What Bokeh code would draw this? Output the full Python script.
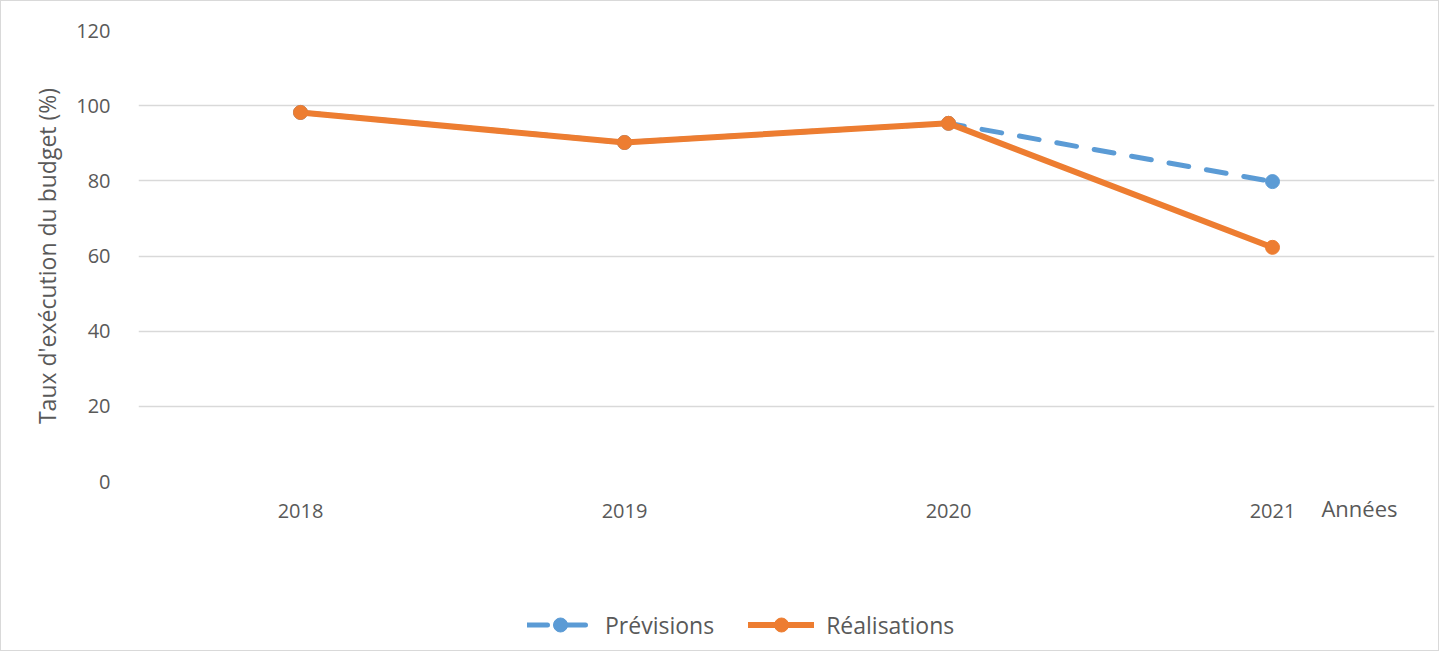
from bokeh.plotting import figure
from bokeh.layouts import column
from bokeh.models import Legend, LegendItem, Title, FactorRange, Range1d
from bokeh.embed import file_html
from bokeh.resources import INLINE

years = ["2018", "2019", "2020", "2021"]
previsions = [98.2, 90.2, 95.3, 79.8]
realisations = [98.2, 90.2, 95.3, 62.3]
y_ticks = [0, 20, 40, 60, 80, 100, 120]

BLUE = "#5B9BD5"
ORANGE = "#ED7D31"
TXT = "#595959"
GRID = "#D9D9D9"
FONT = "Open Sans"

p = figure(width=1437, height=550, x_range=FactorRange(*years, range_padding=0),
           y_range=Range1d(0, 120), output_backend="svg", toolbar_location=None,
           min_border_left=137, min_border_right=4, min_border_top=29, min_border_bottom=70)
p.outline_line_color = None
p.xgrid.grid_line_color = None
p.ygrid.grid_line_color = GRID
p.ygrid.grid_line_width = 1.5
p.yaxis.ticker = y_ticks
p.axis.axis_line_color = None
p.axis.major_tick_line_color = None
p.axis.minor_tick_line_color = None
p.axis.major_label_text_color = TXT
p.axis.major_label_text_font = FONT
p.axis.major_label_text_font_size = "20px"
p.xaxis.major_label_standoff = 16
p.yaxis.major_label_standoff = 22
p.yaxis.axis_label = "Taux d'exécution du budget (%)"
p.yaxis.axis_label_text_font = FONT
p.yaxis.axis_label_text_font_size = "23px"
p.yaxis.axis_label_text_font_style = "normal"
p.yaxis.axis_label_text_color = TXT
p.yaxis.axis_label_standoff = 10

p.line(years, previsions, line_color=BLUE, line_width=5, line_dash="20 18", line_cap="round")
p.scatter(years, previsions, size=14, fill_color=BLUE, line_color=BLUE)
p.line(years, realisations, line_color=ORANGE, line_width=6, line_cap="round")
p.scatter(years, realisations, size=14, fill_color=ORANGE, line_color=ORANGE)

annees = Title(text="Années", align="right", vertical_align="top", offset=37, standoff=-56,
               text_font=FONT, text_font_size="22px", text_font_style="normal",
               text_color=TXT)
p.add_layout(annees, "below")

# legend strip: same series, drawn out of view so only the legend shows
lg = figure(width=1437, height=99, output_backend="svg", toolbar_location=None,
            x_range=FactorRange(*years), y_range=Range1d(0, 1),
            min_border_left=0, min_border_right=0, min_border_top=0, min_border_bottom=0,
            outline_line_color=None)
lg.axis.visible = False
lg.grid.visible = False
lp = lg.line(years, previsions, line_color=BLUE, line_width=5, line_dash="20 18", line_cap="round")
sp = lg.scatter(years, previsions, size=14, fill_color=BLUE, line_color=BLUE)
lr = lg.line(years, realisations, line_color=ORANGE, line_width=6, line_cap="round")
sr = lg.scatter(years, realisations, size=14, fill_color=ORANGE, line_color=ORANGE)
legend = Legend(items=[LegendItem(label="Prévisions", renderers=[lp, sp]),
                       LegendItem(label="Réalisations", renderers=[lr, sr])],
                orientation="horizontal", location=(389, 8), margin=0, padding=10,
                label_text_font=FONT, label_text_font_size="23px", label_text_color=TXT,
                glyph_width=66, glyph_height=35, label_standoff=12, spacing=34,
                border_line_color=None, background_fill_alpha=0)
lg.add_layout(legend, "center")

layout = column(p, lg, spacing=0)
layout.styles = {"border": "1px solid #D9D9D9"}

open("out.html", "w").write(file_html(layout, INLINE))
